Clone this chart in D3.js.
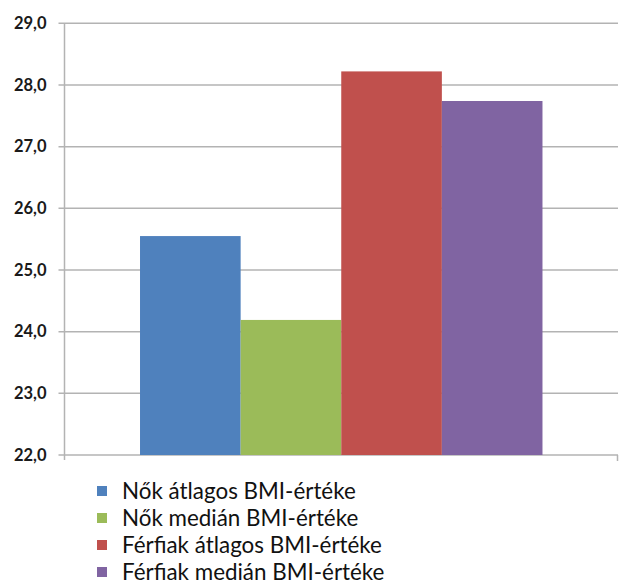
<!DOCTYPE html>
<html><head><meta charset="utf-8">
<script src="https://cdn.jsdelivr.net/npm/d3@7"></script>
<style>body{margin:0;background:#fff}svg{display:block}</style>
</head><body>
<svg id="c" width="619" height="588"></svg>
<script>
const categories = [""];
const series = ["Nők átlagos BMI-értéke","Nők medián BMI-értéke","Férfiak átlagos BMI-értéke","Férfiak medián BMI-értéke"];
const values = [25.55, 24.19, 28.22, 27.74];
const colors = ["#4F81BD","#9BBB59","#C0504D","#8064A2"];
const tickValues = [22,23,24,25,26,27,28,29];

const svg = d3.select("#c");
const m = {left:64.5, right:1, top:23.3, bottom:133};
const W = 619 - m.left - m.right, H = 588 - m.top - m.bottom;
const g = svg.append("g").attr("transform",`translate(${m.left},${m.top})`);

const y = d3.scaleLinear().domain([22,29]).range([H,0]);
const x0 = d3.scaleBand().domain(categories).range([0,W]).padding(0.158);
const x1 = d3.scaleBand().domain(series).range([0,x0.bandwidth()]);

// gridlines
g.append("g").selectAll("line").data(tickValues).join("line")
  .attr("x1",-6).attr("x2",W).attr("y1",d=>y(d)).attr("y2",d=>y(d))
  .attr("stroke","#b3b3b3").attr("stroke-width",1.5);

// bars
g.append("g").selectAll("rect").data(series.map((s,i)=>({s,v:values[i],c:colors[i]}))).join("rect")
  .attr("x",d=>x0(categories[0])+x1(d.s)).attr("width",x1.bandwidth())
  .attr("y",d=>y(d.v)).attr("height",d=>y(22)-y(d.v)).attr("fill",d=>d.c);

// axes
const ya = d3.axisLeft(y).tickValues(tickValues).tickSize(0).tickPadding(18)
  .tickFormat(d=>d3.format(".1f")(d).replace(".",","));
const yg = g.append("g").call(ya);
yg.select(".domain").remove();
yg.selectAll("text").attr("font-family","Lato, 'Open Sans', sans-serif").attr("font-size",16.5).attr("font-weight","bold").attr("fill","#1a1a1a");
g.append("line").attr("x1",0).attr("x2",0).attr("y1",0).attr("y2",H+5).attr("stroke","#b3b3b3").attr("stroke-width",1.5);
g.append("line").attr("x1",W-0.5).attr("x2",W-0.5).attr("y1",H).attr("y2",H+6).attr("stroke","#b3b3b3").attr("stroke-width",1.5);

// legend
const lg = svg.append("g").attr("transform","translate(97,491)");
const items = lg.selectAll("g").data(series).join("g").attr("transform",(d,i)=>`translate(0,${i*27})`);
items.append("rect").attr("x",0).attr("y",-5).attr("width",10).attr("height",10).attr("fill",(d,i)=>colors[i]);
items.append("text").attr("x",25).attr("y",0).attr("dy","0.35em")
  .attr("font-family","Lato, 'Open Sans', sans-serif").attr("font-size",22.4).attr("fill","#111").text(d=>d);
</script>
</body></html>
